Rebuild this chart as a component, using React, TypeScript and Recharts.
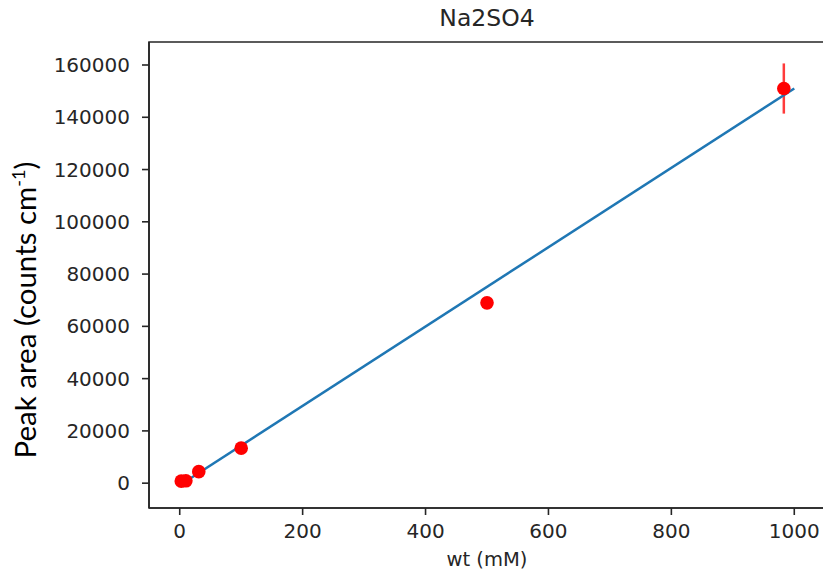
import React from 'react';
import {
  ScatterChart,
  Scatter,
  XAxis,
  YAxis,
  ErrorBar,
  ReferenceArea,
} from 'recharts';

// measured points (wt in mM, peak area in counts cm-1)
const wtValues = [2.5, 10, 31, 100, 500, 983];
const areaValues = [800, 900, 4400, 13400, 69000, 151000];
const areaErrors = [0, 0, 0, 0, 0, 9600];

// linear fit, drawn between its two end points
const fitX = [0, 1000];
const fitY = [-800, 151000];

const xTicks = [0, 200, 400, 600, 800, 1000];
const yTicks = [0, 20000, 40000, 60000, 80000, 100000, 120000, 140000, 160000];

const X_DOMAIN = [-50, 1050];
const Y_DOMAIN = [-9500, 168800];

const points = wtValues.map((x, i) => ({ x, y: areaValues[i], err: areaErrors[i] }));
const fitLine = fitX.map((x, i) => ({ x, y: fitY[i] }));

const tickStyle = { fontFamily: '"DejaVu Sans", sans-serif', fontSize: 20, fill: '#262626' };

const Dot = (props: any) => <circle cx={props.cx} cy={props.cy} r={6.8} fill="#ff0000" />;
const NoDot = () => <g />;

export default function App() {
  return (
    <div style={{ position: 'relative', width: 823, height: 574, overflow: 'hidden', background: '#fff' }}>
      <style>{'body{margin:0}'}</style>

      {/* title */}
      <div
        style={{
          position: 'absolute',
          left: 149,
          width: 676,
          top: 4,
          textAlign: 'center',
          fontFamily: '"DejaVu Sans", sans-serif',
          fontSize: 23.5,
          color: '#262626',
          lineHeight: '28px',
        }}
      >
        Na2SO4
      </div>

      <ScatterChart width={825} height={574} margin={{ top: 42, right: 0, bottom: 0, left: 0 }}>
        <XAxis
          type="number"
          dataKey="x"
          domain={X_DOMAIN}
          ticks={xTicks}
          allowDataOverflow
          height={66}
          tickSize={7}
          tickMargin={9}
          tick={tickStyle}
          stroke="#262626"
          strokeWidth={1.6}
          label={{
            value: 'wt (mM)',
            position: 'insideBottom',
            offset: 8,
            style: { fontFamily: '"DejaVu Sans", sans-serif', fontSize: 19.5, fill: '#262626' },
          }}
        />
        <YAxis
          type="number"
          dataKey="y"
          domain={Y_DOMAIN}
          ticks={yTicks}
          allowDataOverflow
          width={149}
          tickSize={7}
          tickMargin={12}
          tick={tickStyle}
          stroke="#262626"
          strokeWidth={1.6}
        />
        <ReferenceArea
          x1={X_DOMAIN[0]}
          x2={X_DOMAIN[1]}
          y1={Y_DOMAIN[0]}
          y2={Y_DOMAIN[1]}
          fill="none"
          stroke="#262626"
          strokeWidth={1.6}
          ifOverflow="visible"
        />
        <Scatter
          data={fitLine}
          line={{ stroke: '#1f77b4', strokeWidth: 2.5 }}
          shape={NoDot}
          isAnimationActive={false}
        />
        <Scatter data={points} shape={Dot} isAnimationActive={false}>
          <ErrorBar dataKey="err" direction="y" width={0} stroke="#ff3b3b" strokeWidth={2.5} />
        </Scatter>
      </ScatterChart>

      {/* y label with superscript */}
      <svg style={{ position: 'absolute', left: 0, top: 0 }} width={60} height={574}>
        <text
          transform="translate(36, 310) rotate(-90)"
          textAnchor="middle"
          style={{ fontFamily: 'Lato, sans-serif', fontSize: 29.5, fill: '#000' }}
        >
          Peak area (counts cm
          <tspan baselineShift="super" fontSize={18}>-1</tspan>)
        </text>
      </svg>
    </div>
  );
}
